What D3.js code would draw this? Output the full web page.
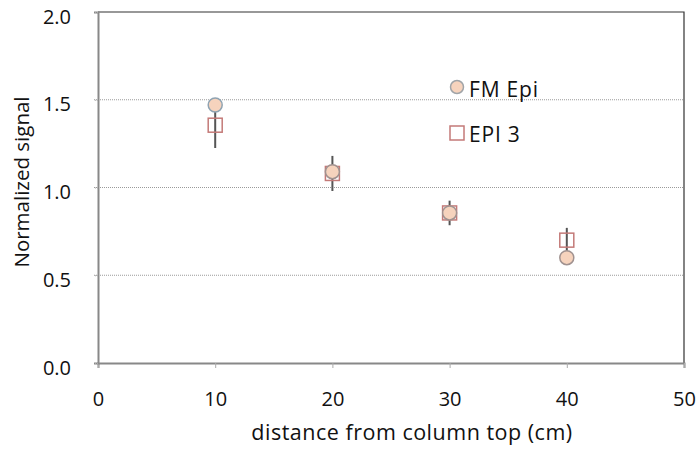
<!DOCTYPE html>
<html>
<head>
<meta charset="utf-8">
<script src="https://cdn.jsdelivr.net/npm/d3@7"></script>
<style>
  body { margin: 0; background: #fff; }
  text { font-family: "Open Sans", Lato, sans-serif; fill: #111; }
</style>
</head>
<body>
<div id="chart"></div>
<script>
// distance from column top (cm)
var distances = [10, 20, 30, 40];
var fmEpi = [1.47, 1.09, 0.855, 0.60];
var epi3 = [1.355, 1.08, 0.855, 0.70];
var epi3Err = [0.13, 0.10, 0.07, 0.07];
var xTicks = [0, 10, 20, 30, 40, 50];
var yTicks = [0, 0.5, 1.0, 1.5, 2.0];

var width = 698,
    height = 450;
var margin = {top: 12, right: 14, bottom: 87, left: 98};

var svg = d3.select("#chart")
    .append("svg")
    .attr("width", width)
    .attr("height", height);

var x = d3.scaleLinear().domain([0, 50]).range([margin.left, width - margin.right]);
var y = d3.scaleLinear().domain([0, 2]).range([height - margin.bottom, margin.top]);

// dotted gridlines
svg.append("g")
    .selectAll("line")
    .data(yTicks.filter(function (d) { return d > 0 && d < 2; }))
    .enter().append("line")
    .attr("x1", x(0) - 4)
    .attr("x2", x(50))
    .attr("y1", function (d) { return y(d); })
    .attr("y2", function (d) { return y(d); })
    .attr("stroke", "#9a9a9a")
    .attr("stroke-width", 1)
    .attr("stroke-dasharray", "1,1");

// top and right border
svg.append("path")
    .attr("d", "M" + x(0) + "," + y(2) + "H" + x(50) + "V" + y(0))
    .attr("fill", "none")
    .attr("stroke", "#333")
    .attr("stroke-width", 1.2);

var xAxis = svg.append("g")
    .attr("transform", "translate(0," + y(0) + ")")
    .call(d3.axisBottom(x).tickValues(xTicks).tickSize(5).tickPadding(24).tickFormat(d3.format("d")));
xAxis.select(".domain").attr("stroke", "#888").attr("stroke-width", 2);
xAxis.selectAll(".tick line").attr("stroke", "#aaa");
xAxis.selectAll("text").style("font-size", "20px").attr("fill", "#111");

var yAxis = svg.append("g")
    .attr("transform", "translate(" + x(0) + ",0)")
    .call(d3.axisLeft(y).tickValues(yTicks).tickSize(4).tickPadding(23).tickFormat(d3.format(".1f")));
yAxis.select(".domain").attr("stroke", "#888").attr("stroke-width", 2);
yAxis.selectAll(".tick line").attr("stroke", "#aaa").attr("stroke-dasharray", "1,1");
yAxis.selectAll("text").style("font-size", "20px").attr("fill", "#111").attr("dy", "0.56em");

// axis titles
svg.append("text")
    .attr("x", 412)
    .attr("y", 440)
    .attr("text-anchor", "middle")
    .style("font-size", "21.5px")
    .style("letter-spacing", "0.5px")
    .text("distance from column top (cm)");

svg.append("text")
    .attr("transform", "translate(29,182) rotate(-90)")
    .attr("text-anchor", "middle")
    .style("font-size", "20.5px")
    .text("Normalized signal");

// EPI 3 error bars and squares
var sq = 14;
svg.append("g")
    .selectAll("line")
    .data(distances)
    .enter().append("line")
    .attr("x1", function (d) { return x(d); })
    .attr("x2", function (d) { return x(d); })
    .attr("y1", function (d, i) { return y(epi3[i] + epi3Err[i]); })
    .attr("y2", function (d, i) { return y(epi3[i] - epi3Err[i]); })
    .attr("stroke", "#555")
    .attr("stroke-width", 2);

svg.append("g")
    .selectAll("rect")
    .data(distances)
    .enter().append("rect")
    .attr("x", function (d) { return x(d) - sq / 2; })
    .attr("y", function (d, i) { return y(epi3[i]) - sq / 2; })
    .attr("width", sq)
    .attr("height", sq)
    .attr("fill", "none")
    .attr("stroke", "#c47a78")
    .attr("stroke-width", 1.5);

// FM Epi circles
svg.append("g")
    .selectAll("circle")
    .data(distances)
    .enter().append("circle")
    .attr("cx", function (d) { return x(d); })
    .attr("cy", function (d, i) { return y(fmEpi[i]); })
    .attr("r", 7)
    .attr("fill", "#f6d3bd")
    .attr("stroke", function (d, i) { return i === 0 ? "#8fa3b2" : "#a09290"; })
    .attr("stroke-width", 1.5);

// legend
var legend = svg.append("g");
legend.append("circle")
    .attr("cx", 457).attr("cy", 87).attr("r", 6.5)
    .attr("fill", "#f6d3bd").attr("stroke", "#a0a4a8").attr("stroke-width", 1.5);
legend.append("text")
    .attr("x", 469).attr("y", 97)
    .style("font-size", "21px")
    .style("letter-spacing", "0.8px")
    .text("FM Epi");
legend.append("rect")
    .attr("x", 450).attr("y", 126).attr("width", sq).attr("height", sq)
    .attr("fill", "none").attr("stroke", "#c47a78").attr("stroke-width", 1.5);
legend.append("text")
    .attr("x", 469).attr("y", 142)
    .style("font-size", "21px")
    .style("letter-spacing", "0.8px")
    .text("EPI 3");
</script>
</body>
</html>
